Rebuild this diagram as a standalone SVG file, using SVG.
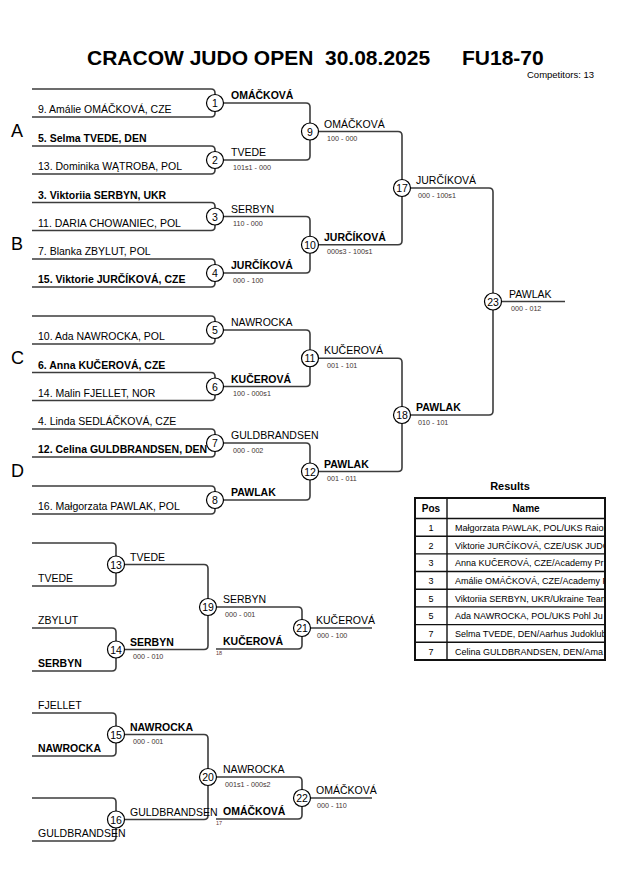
<svg xmlns="http://www.w3.org/2000/svg" width="630" height="891" viewBox="0 0 630 891">
<style>
text{font-family:"Liberation Sans",Arial,sans-serif;fill:#000}
.t{font-size:21px;font-weight:bold}
.e{font-size:10.5px}
.b{font-weight:bold}
.s{font-size:7.2px;fill:#433}
.tiny{font-size:5.5px;fill:#633}
.p{font-size:18px}
.n{font-size:10.5px;text-anchor:middle}
.ln{fill:none;stroke:#3c3c3c;stroke-width:1.6}
.nd circle{fill:#fff;stroke:#000;stroke-width:1.2}
.tb{font-size:9px}
.tbh{font-size:10px;font-weight:bold}
.tbl{fill:none;stroke:#111;stroke-width:1.4}
</style>
<defs>
<clipPath id="clipT"><rect x="447" y="498" width="157" height="162"/></clipPath>
</defs>
<rect width="630" height="891" fill="#fff"/>
<g id="title">
<text class="t" x="87" y="65">CRACOW JUDO OPEN</text>
<text class="t" x="325" y="65">30.08.2025</text>
<text class="t" x="462" y="65">FU18-70</text>
<text x="527" y="78" style="font-size:9.5px">Competitors: 13</text>
</g>
<g id="pools">
<text class="p" x="11" y="137">A</text>
<text class="p" x="11" y="250">B</text>
<text class="p" x="11" y="364">C</text>
<text class="p" x="11" y="477">D</text>
</g>
<g id="connectors">
<path class="ln" d="M32,89 H211 q4,0 4,4 V103 M32,117 H211 q4,0 4,-4 V103"/>
<path class="ln" d="M32,146 H211 q4,0 4,4 V160 M32,174 H211 q4,0 4,-4 V160"/>
<path class="ln" d="M32,202.5 H211 q4,0 4,4 V216.5 M32,230.5 H211 q4,0 4,-4 V216.5"/>
<path class="ln" d="M32,259 H211 q4,0 4,4 V273 M32,287 H211 q4,0 4,-4 V273"/>
<path class="ln" d="M32,316 H211 q4,0 4,4 V330 M32,344 H211 q4,0 4,-4 V330"/>
<path class="ln" d="M32,372.5 H211 q4,0 4,4 V386.5 M32,400.5 H211 q4,0 4,-4 V386.5"/>
<path class="ln" d="M32,429 H211 q4,0 4,4 V443 M32,457 H211 q4,0 4,-4 V443"/>
<path class="ln" d="M32,486 H211 q4,0 4,4 V500 M32,514 H211 q4,0 4,-4 V500"/>
<path class="ln" d="M215,103 H306 q4,0 4,4 V131.5 M215,160 H306 q4,0 4,-4 V131.5"/>
<path class="ln" d="M215,216.5 H306 q4,0 4,4 V244.75 M215,273 H306 q4,0 4,-4 V244.75"/>
<path class="ln" d="M215,330 H306 q4,0 4,4 V358.25 M215,386.5 H306 q4,0 4,-4 V358.25"/>
<path class="ln" d="M215,443 H306 q4,0 4,4 V471.5 M215,500 H306 q4,0 4,-4 V471.5"/>
<path class="ln" d="M310,131.5 H398 q4,0 4,4 V188 M310,244.75 H398 q4,0 4,-4 V188"/>
<path class="ln" d="M310,358.25 H398 q4,0 4,4 V415 M310,471.5 H398 q4,0 4,-4 V415"/>
<path class="ln" d="M402,188 H489 q4,0 4,4 V301.5 M402,415 H489 q4,0 4,-4 V301.5 M493,301.5 H565"/>
<path class="ln" d="M32,543 H112 q4,0 4,4 V564.5 M32,586 H112 q4,0 4,-4 V564.5"/>
<path class="ln" d="M32,628 H112 q4,0 4,4 V649.5 M32,671 H112 q4,0 4,-4 V649.5"/>
<path class="ln" d="M116,564.5 H204 q4,0 4,4 V607 M116,649.5 H204 q4,0 4,-4 V607"/>
<path class="ln" d="M208,607 H298 q4,0 4,4 V628 M216,649 H298 q4,0 4,-4 V628 M302,628 H372"/>
<path class="ln" d="M32,713 H112 q4,0 4,4 V734.5 M32,756 H112 q4,0 4,-4 V734.5"/>
<path class="ln" d="M32,798 H112 q4,0 4,4 V819.5 M32,841 H112 q4,0 4,-4 V819.5"/>
<path class="ln" d="M116,734.5 H204 q4,0 4,4 V777 M116,819.5 H204 q4,0 4,-4 V777"/>
<path class="ln" d="M208,777 H298 q4,0 4,4 V798 M216,819 H298 q4,0 4,-4 V798 M302,798 H372"/>
</g>
<g id="entries">
<text class="e" x="38" y="113">9. Amálie OMÁČKOVÁ, CZE</text>
<text class="e b" x="38" y="142">5. Selma TVEDE, DEN</text>
<text class="e" x="38" y="170">13. Dominika WĄTROBA, POL</text>
<text class="e b" x="38" y="198.5">3. Viktoriia SERBYN, UKR</text>
<text class="e" x="38" y="226.5">11. DARIA CHOWANIEC, POL</text>
<text class="e" x="38" y="255">7. Blanka ZBYLUT, POL</text>
<text class="e b" x="38" y="283">15. Viktorie JURČÍKOVÁ, CZE</text>
<text class="e" x="38" y="340">10. Ada NAWROCKA, POL</text>
<text class="e b" x="38" y="368.5">6. Anna KUČEROVÁ, CZE</text>
<text class="e" x="38" y="396.5">14. Malin FJELLET, NOR</text>
<text class="e" x="38" y="425">4. Linda SEDLÁČKOVÁ, CZE</text>
<text class="e" x="38" y="510">16. Małgorzata PAWLAK, POL</text>
<text class="e" x="38" y="582">TVEDE</text>
<text class="e" x="38" y="624">ZBYLUT</text>
<text class="e b" x="38" y="667">SERBYN</text>
<text class="e" x="38" y="709">FJELLET</text>
<text class="e b" x="38" y="752">NAWROCKA</text>
<text class="e" x="38" y="837">GULDBRANDSEN</text>
</g>
<g id="m1" class="nd"><circle cx="215" cy="103" r="8.5"/><text class="n" x="215" y="107">1</text><text class="e b" x="231" y="99">OMÁČKOVÁ</text></g>
<g id="m2" class="nd"><circle cx="215" cy="160" r="8.5"/><text class="n" x="215" y="164">2</text><text class="e" x="231" y="156">TVEDE</text><text class="s" x="233" y="169.5">101s1 - 000</text></g>
<g id="m3" class="nd"><circle cx="215" cy="216.5" r="8.5"/><text class="n" x="215" y="220.5">3</text><text class="e" x="231" y="212.5">SERBYN</text><text class="s" x="233" y="226">110 - 000</text></g>
<g id="m4" class="nd"><circle cx="215" cy="273" r="8.5"/><text class="n" x="215" y="277">4</text><text class="e b" x="231" y="269">JURČÍKOVÁ</text><text class="s" x="233" y="282.5">000 - 100</text></g>
<g id="m5" class="nd"><circle cx="215" cy="330" r="8.5"/><text class="n" x="215" y="334">5</text><text class="e" x="231" y="326">NAWROCKA</text></g>
<g id="m6" class="nd"><circle cx="215" cy="386.5" r="8.5"/><text class="n" x="215" y="390.5">6</text><text class="e b" x="231" y="382.5">KUČEROVÁ</text><text class="s" x="233" y="396">100 - 000s1</text></g>
<g id="m7" class="nd"><circle cx="215" cy="443" r="8.5"/><text class="n" x="215" y="447">7</text><text class="e" x="231" y="439">GULDBRANDSEN</text><text class="s" x="233" y="452.5">000 - 002</text></g>
<text class="e b" x="38" y="453">12. Celina GULDBRANDSEN, DEN</text>
<g id="m8" class="nd"><circle cx="215" cy="500" r="8.5"/><text class="n" x="215" y="504">8</text><text class="e b" x="231" y="496">PAWLAK</text></g>
<g id="m9" class="nd"><circle cx="310" cy="131.5" r="8.5"/><text class="n" x="310" y="135.5">9</text><text class="e" x="324" y="127.5">OMÁČKOVÁ</text><text class="s" x="327" y="141">100 - 000</text></g>
<g id="m10" class="nd"><circle cx="310" cy="244.75" r="8.5"/><text class="n" x="310" y="248.75">10</text><text class="e b" x="324" y="240.75">JURČÍKOVÁ</text><text class="s" x="327" y="254.25">000s3 - 100s1</text></g>
<g id="m11" class="nd"><circle cx="310" cy="358.25" r="8.5"/><text class="n" x="310" y="362.25">11</text><text class="e" x="324" y="354.25">KUČEROVÁ</text><text class="s" x="327" y="367.75">001 - 101</text></g>
<g id="m12" class="nd"><circle cx="310" cy="471.5" r="8.5"/><text class="n" x="310" y="475.5">12</text><text class="e b" x="324" y="467.5">PAWLAK</text><text class="s" x="327" y="481">001 - 011</text></g>
<g id="m17" class="nd"><circle cx="402" cy="188" r="8.5"/><text class="n" x="402" y="192">17</text><text class="e" x="416" y="184">JURČÍKOVÁ</text><text class="s" x="418" y="197.5">000 - 100s1</text></g>
<g id="m18" class="nd"><circle cx="402" cy="415" r="8.5"/><text class="n" x="402" y="419">18</text><text class="e b" x="416" y="411">PAWLAK</text><text class="s" x="418" y="424.5">010 - 101</text></g>
<g id="m23" class="nd"><circle cx="493" cy="301.5" r="8.5"/><text class="n" x="493" y="305.5">23</text><text class="e" x="509" y="297.5">PAWLAK</text><text class="s" x="511" y="311">000 - 012</text></g>
<g id="m13" class="nd"><circle cx="116" cy="564.5" r="8.5"/><text class="n" x="116" y="568.5">13</text><text class="e" x="130" y="560.5">TVEDE</text></g>
<g id="m14" class="nd"><circle cx="116" cy="649.5" r="8.5"/><text class="n" x="116" y="653.5">14</text><text class="e b" x="130" y="645.5">SERBYN</text><text class="s" x="133" y="659">000 - 010</text></g>
<g id="m19" class="nd"><circle cx="208" cy="607" r="8.5"/><text class="n" x="208" y="611">19</text><text class="e" x="223" y="603">SERBYN</text><text class="s" x="225" y="616.5">000 - 001</text></g>
<g id="m21" class="nd"><circle cx="302" cy="628" r="8.5"/><text class="n" x="302" y="632">21</text><text class="e b" x="223" y="645">KUČEROVÁ</text><text class="tiny" x="216" y="655">18</text><text class="e" x="316" y="624">KUČEROVÁ</text><text class="s" x="317" y="637.5">000 - 100</text></g>
<g id="m15" class="nd"><circle cx="116" cy="734.5" r="8.5"/><text class="n" x="116" y="738.5">15</text><text class="e b" x="130" y="730.5">NAWROCKA</text><text class="s" x="133" y="744">000 - 001</text></g>
<g id="m16" class="nd"><circle cx="116" cy="819.5" r="8.5"/><text class="n" x="116" y="823.5">16</text><text class="e" x="130" y="815.5">GULDBRANDSEN</text></g>
<g id="m20" class="nd"><circle cx="208" cy="777" r="8.5"/><text class="n" x="208" y="781">20</text><text class="e" x="223" y="773">NAWROCKA</text><text class="s" x="225" y="786.5">001s1 - 000s2</text></g>
<g id="m22" class="nd"><circle cx="302" cy="798" r="8.5"/><text class="n" x="302" y="802">22</text><text class="e b" x="223" y="815">OMÁČKOVÁ</text><text class="tiny" x="216" y="825">17</text><text class="e" x="316" y="794">OMÁČKOVÁ</text><text class="s" x="317" y="807.5">000 - 110</text></g>
<g id="results">
<text x="510" y="490" style="font-size:11px;font-weight:bold;text-anchor:middle">Results</text>
<rect x="415" y="498" width="190" height="162" fill="#fff" stroke="#111" stroke-width="2"/>
<path class="tbl" d="M447,498 V660 M415,518.5 H605 M415,536.2 H605 M415,553.9 H605 M415,571.5 H605 M415,589.2 H605 M415,606.9 H605 M415,624.6 H605 M415,642.3 H605"/>
<text class="tbh" x="431" y="512" text-anchor="middle">Pos</text>
<text class="tbh" x="526" y="512" text-anchor="middle">Name</text>
<g text-anchor="middle">
<text class="tb" x="431" y="531">1</text>
<text class="tb" x="431" y="548.7">2</text>
<text class="tb" x="431" y="566.4">3</text>
<text class="tb" x="431" y="584">3</text>
<text class="tb" x="431" y="601.7">5</text>
<text class="tb" x="431" y="619.4">5</text>
<text class="tb" x="431" y="637.1">7</text>
<text class="tb" x="431" y="654.8">7</text>
</g>
<g clip-path="url(#clipT)">
<text class="tb" x="455" y="531">Małgorzata PAWLAK, POL/UKS Raion</text>
<text class="tb" x="455" y="548.7">Viktorie JURČÍKOVÁ, CZE/USK JUDO</text>
<text class="tb" x="455" y="566.4">Anna KUČEROVÁ, CZE/Academy Pr</text>
<text class="tb" x="455" y="584">Amálie OMÁČKOVÁ, CZE/Academy P</text>
<text class="tb" x="455" y="601.7">Viktoriia SERBYN, UKR/Ukraine Team</text>
<text class="tb" x="455" y="619.4">Ada NAWROCKA, POL/UKS Pohl Ju</text>
<text class="tb" x="455" y="637.1">Selma TVEDE, DEN/Aarhus Judoklub</text>
<text class="tb" x="455" y="654.8">Celina GULDBRANDSEN, DEN/Ama</text>
</g>
</g>
</svg>
